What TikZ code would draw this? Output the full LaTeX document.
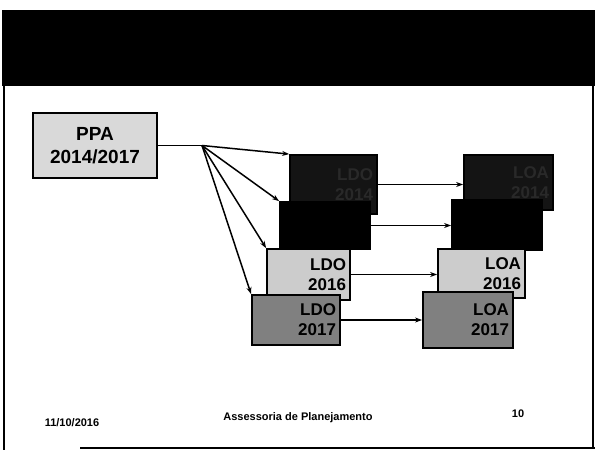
\documentclass[tikz,border=0pt]{standalone}
\usepackage{fontspec}
\setmainfont{Liberation Sans}
\setsansfont{Liberation Sans}
\usetikzlibrary{arrows.meta}
\begin{document}
\begin{tikzpicture}[
  x=1pt, y=-1pt,
  box/.style={rectangle, draw, line width=1.8pt, inner sep=4pt, align=right, font=\sffamily\bfseries\fontsize{17}{20}\selectfont},
  light/.style={box, fill=black!20},
  dark/.style={box, fill=black!50},
  deep/.style={box, fill=black!92, text=black!84},
  solid/.style={box, fill=black},
  link/.style={->, line width=1.5pt, >={Stealth[length=7pt,width=5pt]}},
  foot/.style={font=\sffamily\bfseries\fontsize{11}{13}\selectfont}
]
\useasboundingbox (0,0) rectangle (595,450);

% slide frame
\fill (2,10) rectangle (595,86);
\draw[line width=2pt] (4,86) -- (4,450);
\draw[line width=1.2pt] (593,86) -- (593,448);
\draw[line width=1.8pt] (80,448) -- (595,448);

\node[box, fill=black!15, minimum width=124pt, minimum height=65pt, align=center, font=\sffamily\bfseries\fontsize{19}{23}\selectfont] (ppa) at (95,145.5) {PPA\\2014/2017};

% LDO column
\node[deep, text width=79pt, minimum height=59pt] (ldoA) at (333.5,184.5) {LDO\\2014};
\node[solid, text width=82pt, minimum height=47pt] (ldoB) at (325,225.5) {};
\node[light, text width=75pt, minimum height=51pt] (ldoC) at (308.5,274.5) {LDO\\2016};
\node[dark, text width=80pt, minimum height=50pt] (ldoD) at (296,320) {LDO\\2017};

% LOA column
\node[deep, text width=81pt, minimum height=55pt] (loaA) at (508.5,182.5) {LOA\\2014};
\node[solid, text width=82pt, minimum height=50pt] (loaB) at (497,225) {};
\node[light, text width=79pt, minimum height=49pt] (loaC) at (481.5,273.5) {LOA\\2016};
\node[dark, text width=82pt, minimum height=56pt] (loaD) at (468,320) {LOA\\2017};

\coordinate (fan) at (202,145.5);
\draw[line width=1.5pt] (ppa.east) -- (fan);
\foreach \n in {ldoA,ldoB,ldoC,ldoD}
  \draw[link] (fan) -- (\n.north west);

\draw[link] (ldoA.east) -- (ldoA.east -| loaA.west);
\draw[link] (ldoB.east) -- (ldoB.east -| loaB.west);
\draw[link] (ldoC.east) -- (ldoC.east -| loaC.west);
\draw[link] (ldoD.east) -- (ldoD.east -| loaD.west);

% footer
\node[foot] (date) at (72,423) {11/10/2016};
\node[foot] (dept) at (298,418) {Assessoria de Planejamento};
\node[foot] (page) at (518,414) {10};
\end{tikzpicture}
\end{document}
